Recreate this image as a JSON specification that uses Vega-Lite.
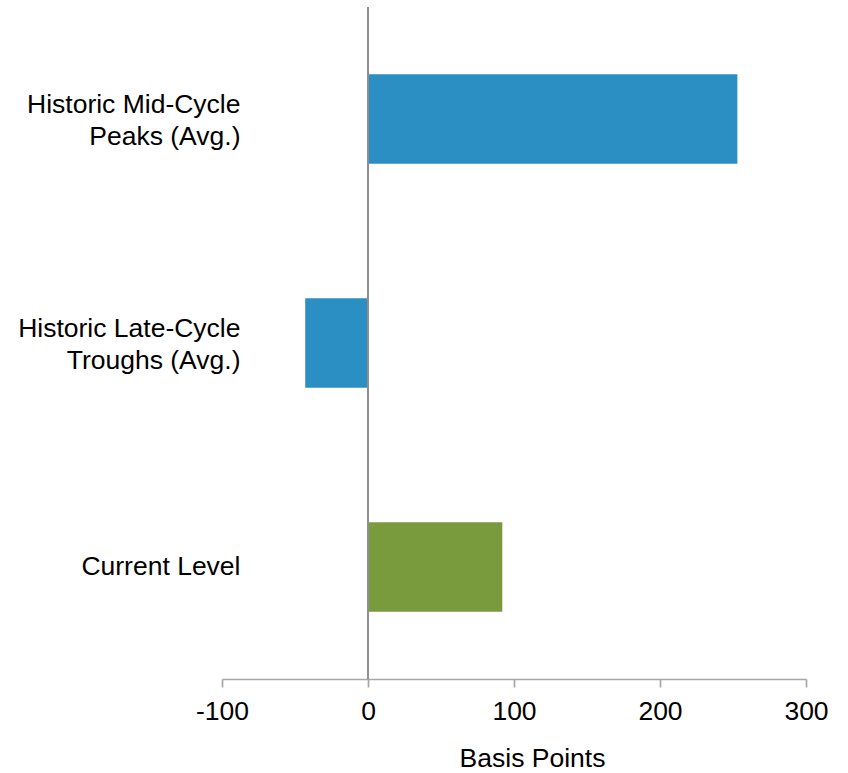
{
  "$schema": "https://vega.github.io/schema/vega-lite/v6.json",
  "autosize": "none",
  "padding": {"left": 222, "top": 7, "right": 42, "bottom": 94},
  "width": 584,
  "height": 672,
  "background": "white",
  "config": {
    "view": {"stroke": null},
    "font": "Liberation Sans"
  },
  "data": {
    "values": [
      {"category": "Historic Mid-Cycle Peaks (Avg.)", "value": 253},
      {"category": "Historic Late-Cycle Troughs (Avg.)", "value": -43},
      {"category": "Current Level", "value": 92}
    ]
  },
  "layer": [
    {
      "mark": {"type": "bar"},
      "encoding": {
        "y": {
          "field": "category",
          "type": "nominal",
          "sort": null,
          "scale": {"paddingInner": 0.6, "paddingOuter": 0.3},
          "axis": {
            "title": null,
            "orient": "left",
            "domain": false,
            "ticks": false,
            "labelPadding": -18,
            "labelFontSize": 26.5,
            "labelColor": "black",
            "labelLineHeight": 32,
            "labelLimit": 400,
            "labelOffset": {"condition": {"test": "indexof(datum.label, 'Historic') >= 0", "value": -14}, "value": 0},
            "labelExpr": "datum.label === 'Historic Mid-Cycle Peaks (Avg.)' ? ['Historic Mid-Cycle', 'Peaks (Avg.)'] : datum.label === 'Historic Late-Cycle Troughs (Avg.)' ? ['Historic Late-Cycle', 'Troughs (Avg.)'] : datum.label"
          }
        },
        "x": {
          "field": "value",
          "type": "quantitative",
          "scale": {"domain": [-100, 300], "nice": false, "zero": true},
          "axis": {
            "title": "Basis Points",
            "values": [-100, 0, 100, 200, 300],
            "labelExpr": "datum.value < 0 ? '-' + abs(datum.value) : '' + datum.value",
            "grid": false,
            "domainColor": "#a6a6a6",
            "domainWidth": 1.7,
            "tickColor": "#a6a6a6",
            "tickWidth": 1.7,
            "tickSize": 8,
            "labelFontSize": 26.5,
            "labelColor": "black",
            "labelPadding": 11,
            "labelFlush": false,
            "titleFontSize": 26.5,
            "titleFontWeight": "normal",
            "titleColor": "black",
            "titlePadding": 21,
            "titleX": 310,
            "titleAlign": "center",
            "titleAnchor": "start"
          }
        },
        "color": {
          "field": "category",
          "type": "nominal",
          "scale": {
            "domain": ["Historic Mid-Cycle Peaks (Avg.)", "Historic Late-Cycle Troughs (Avg.)", "Current Level"],
            "range": ["#2b8fc3", "#2b8fc3", "#7a9a3e"]
          },
          "legend": null
        }
      }
    },
    {
      "mark": {"type": "rule", "color": "#8c8c8c", "strokeWidth": 1.5},
      "encoding": {
        "x": {"datum": 0}
      }
    }
  ]
}
